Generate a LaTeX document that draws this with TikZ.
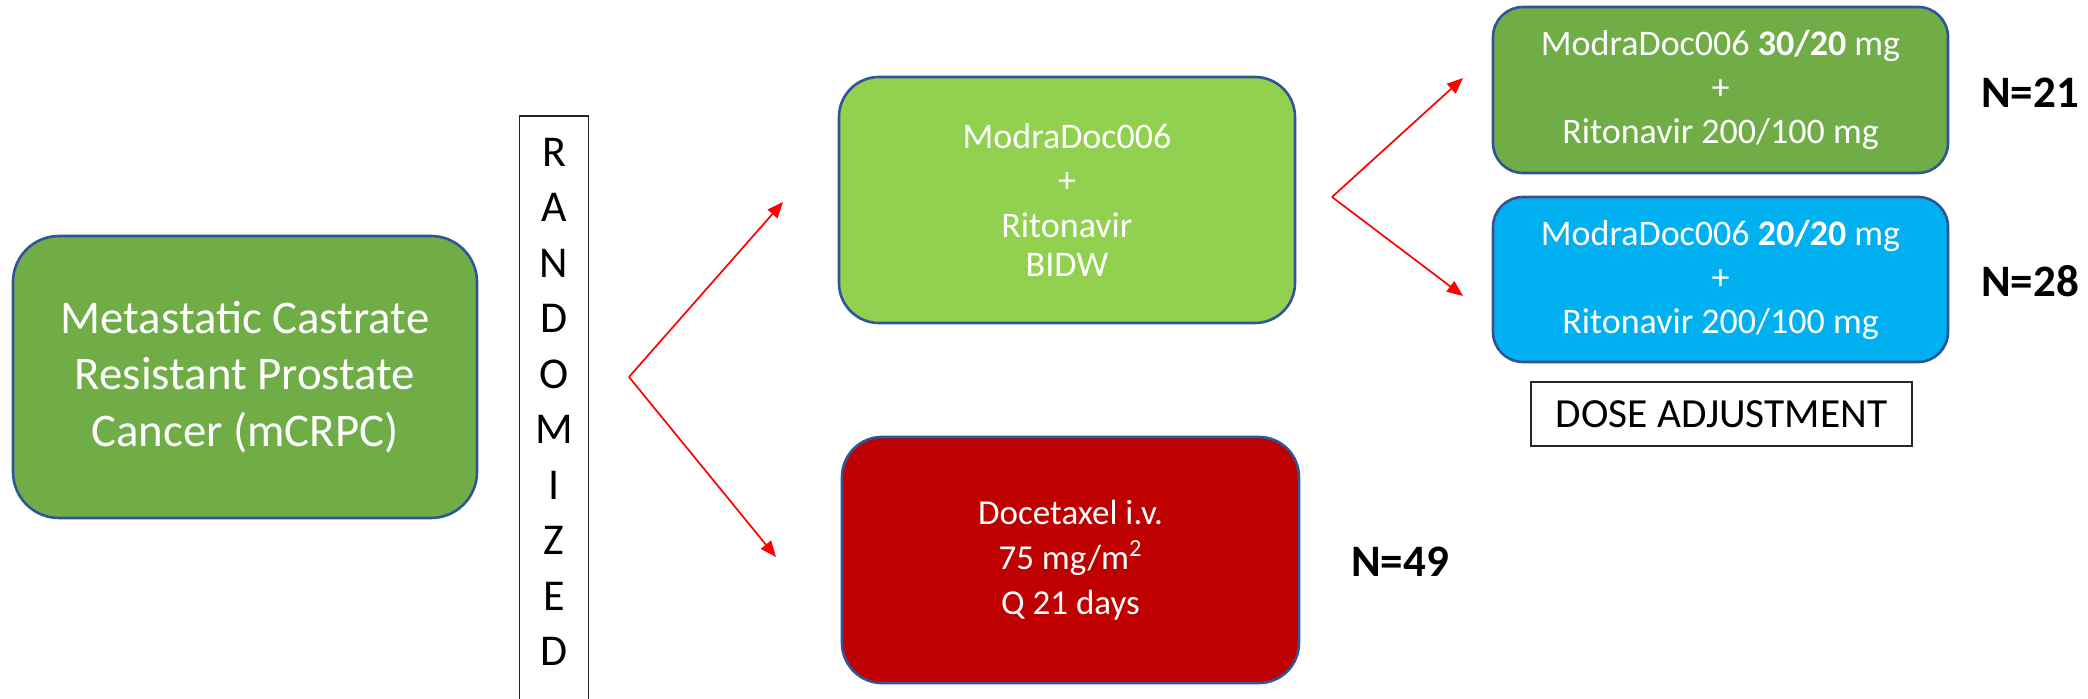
\documentclass[tikz,border=0pt]{standalone}
\usepackage{fontspec}
\setmainfont{Carlito}
\usetikzlibrary{arrows.meta}
\definecolor{gmid}{HTML}{70AD47}
\definecolor{glight}{HTML}{92D050}
\definecolor{dred}{HTML}{BF0000}
\definecolor{sky}{HTML}{00B0F0}
\definecolor{edgeblue}{HTML}{2F5597}
\definecolor{arr}{HTML}{FF0000}
\begin{document}
\begin{tikzpicture}[x=0.5pt,y=-0.5pt,
  box/.style={draw=edgeblue, line width=1.3pt, text=white, align=center, inner sep=0pt},
  plain/.style={draw=black!85, line width=0.85pt, inner sep=0pt},
  lab/.style={font=\fontsize{22.5}{26}\selectfont\bfseries, inner sep=0pt},
  letter/.style={font=\fontsize{22}{24}\selectfont, inner sep=0pt},
  redarrow/.style={draw=arr, line width=0.85pt, -{Triangle[length=8pt,width=6.5pt]}}]
\useasboundingbox (0,0) rectangle (2088,699);
% source
\node[box, fill=gmid, minimum width=232pt, minimum height=141pt, rounded corners=23pt,
      font=\fontsize{23.4}{28.3}\selectfont] (src) at (245,377)
  {Metastatic Castrate\\Resistant Prostate\\Cancer (mCRPC)};
% randomized bar
\node[plain, minimum width=34.5pt, minimum height=300pt, anchor=north] (rand) at (554,115) {};
\foreach \l [count=\i from 0] in {R,A,N,D,O,M,I,Z,E,D}
  \node[letter] (L\i) at (554,{152+55.5*\i}) {\l};
% arms
\node[box, fill=glight, minimum width=228pt, minimum height=123pt, rounded corners=20pt,
      font=\fontsize{18}{22.3}\selectfont] (modra) at (1067,200)
  {ModraDoc006\\+\\Ritonavir\\[-2.5pt]BIDW};
\node[box, fill=dred, minimum width=228.5pt, minimum height=123pt, rounded corners=20pt,
      font=\fontsize{17.5}{22.6}\selectfont] (doce) at (1070.5,560)
  {Docetaxel i.v.\\75 mg/m\textsuperscript{2}\\Q 21 days};
\node[box, fill=gmid, minimum width=227.5pt, minimum height=83pt, rounded corners=15pt,
      font=\fontsize{18}{22}\selectfont] (hi) at (1720.5,90)
  {ModraDoc006 \textbf{30/20} mg\\+\\Ritonavir 200/100 mg};
\node[box, fill=sky, minimum width=227.5pt, minimum height=82.5pt, rounded corners=15pt,
      font=\fontsize{18}{22}\selectfont] (lo) at (1720.5,279.5)
  {ModraDoc006 \textbf{20/20} mg\\+\\Ritonavir 200/100 mg};
\node[plain, minimum width=190.5pt, minimum height=32pt,
      font=\fontsize{20.7}{24}\selectfont] (dose) at (1721.5,414) {DOSE ADJUSTMENT};
% N labels
\node[lab] (n21) at (2030,93) {N=21};
\node[lab] (n28) at (2030,281) {N=28};
\node[lab] (n49) at (1400,562) {N=49};
% connectors
\coordinate (s1) at (629,377);
\coordinate (t1) at (783,202);
\coordinate (t2) at (776,557);
\coordinate (s2) at (1332,197);
\coordinate (t3) at (1463,78);
\coordinate (t4) at (1463,296);
\draw[redarrow] (s1) -- (t1);
\draw[redarrow] (s1) -- (t2);
\draw[redarrow] (s2) -- (t3);
\draw[redarrow] (s2) -- (t4);
\end{tikzpicture}
\end{document}
